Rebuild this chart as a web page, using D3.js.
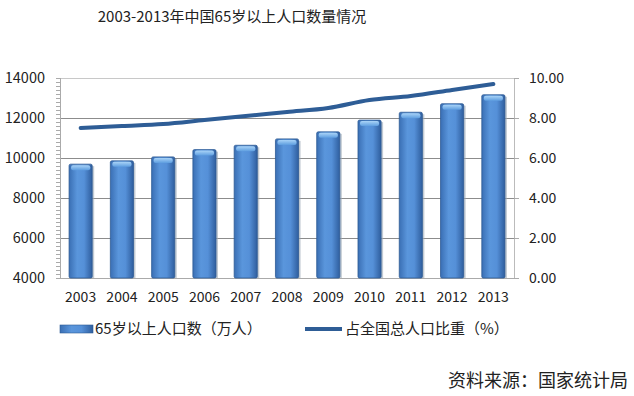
<!DOCTYPE html>
<html>
<head>
<meta charset="utf-8">
<script src="https://cdn.jsdelivr.net/npm/d3@7"></script>
<style>
  body { margin: 0; background: #fff; }
  text { font-family: "Noto Sans CJK SC", "Noto Sans", sans-serif; }
</style>
</head>
<body>
<div id="chart"></div>
<script>
const years = ["2003", "2004", "2005", "2006", "2007", "2008", "2009", "2010", "2011", "2012", "2013"];
const population = [9692, 9857, 10055, 10419, 10636, 10956, 11307, 11894, 12288, 12714, 13161];
const share = [7.5, 7.6, 7.7, 7.9, 8.1, 8.3, 8.5, 8.9, 9.1, 9.4, 9.7];
const leftTicks = [4000, 6000, 8000, 10000, 12000, 14000];
const rightTicks = [0, 2, 4, 6, 8, 10];

const W = 634, H = 396;
const plot = { left: 60, right: 514, top: 78, bottom: 278 };

const svg = d3.select("#chart").append("svg")
    .attr("width", W)
    .attr("height", H);

const defs = svg.append("defs");
const grad = defs.append("linearGradient").attr("id", "barGrad")
    .attr("x1", "0").attr("x2", "1").attr("y1", "0").attr("y2", "0");
grad.append("stop").attr("offset", "0%").attr("stop-color", "#3a6fb4");
grad.append("stop").attr("offset", "35%").attr("stop-color", "#5a96dc");
grad.append("stop").attr("offset", "65%").attr("stop-color", "#5590d8");
grad.append("stop").attr("offset", "100%").attr("stop-color", "#2f5e9e");

const capGrad = defs.append("linearGradient").attr("id", "capGrad")
    .attr("x1", "0").attr("x2", "0").attr("y1", "0").attr("y2", "1");
capGrad.append("stop").attr("offset", "0%").attr("stop-color", "#a9d3f7");
capGrad.append("stop").attr("offset", "100%").attr("stop-color", "#5e9ee0");

const x = d3.scaleBand().domain(years).range([plot.left, plot.right]).paddingInner(0.44).paddingOuter(0.22);
const xc = d3.scaleBand().domain(years).range([plot.left, plot.right]);
const yL = d3.scaleLinear().domain([4000, 14000]).range([plot.bottom, plot.top]);
const yR = d3.scaleLinear().domain([0, 10]).range([plot.bottom, plot.top]);

// title
svg.append("text")
    .attr("x", 232).attr("y", 22)
    .attr("text-anchor", "middle")
    .style("font-size", "15px")
    .style("fill", "#222")
    .text("2003-2013年中国65岁以上人口数量情况");

// gridlines
svg.append("g").selectAll("line")
    .data(leftTicks.filter(d => d > 4000))
    .enter().append("line")
    .attr("x1", plot.left).attr("x2", plot.right)
    .attr("y1", d => Math.round(yL(d)) + 0.5).attr("y2", d => Math.round(yL(d)) + 0.5)
    .attr("stroke", d => d === 14000 ? "#c8c8c8" : "#8c8c8c")
    .attr("stroke-width", 1);

// left axis with minor ticks
const minor = d3.range(4000, 14001, 200);
svg.append("g").selectAll("line")
    .data(minor)
    .enter().append("line")
    .attr("x1", plot.left - 4).attr("x2", plot.left)
    .attr("y1", d => Math.round(yL(d)) + 0.5).attr("y2", d => Math.round(yL(d)) + 0.5)
    .attr("stroke", "#aaa");
svg.append("line")
    .attr("x1", plot.left + 0.5).attr("x2", plot.left + 0.5)
    .attr("y1", plot.top).attr("y2", plot.bottom)
    .attr("stroke", "#aaa");
svg.append("g").selectAll("text")
    .data(leftTicks)
    .enter().append("text")
    .attr("x", 45).attr("y", d => yL(d) + 5)
    .attr("text-anchor", "end")
    .style("font-size", "14.5px")
    .style("fill", "#222")
    .text(d => d);

// right axis
svg.append("line")
    .attr("x1", plot.right + 0.5).attr("x2", plot.right + 0.5)
    .attr("y1", plot.top).attr("y2", plot.bottom)
    .attr("stroke", "#bbb");
svg.append("g").selectAll("line")
    .data(rightTicks)
    .enter().append("line")
    .attr("x1", plot.right).attr("x2", plot.right + 5)
    .attr("y1", d => Math.round(yR(d)) + 0.5).attr("y2", d => Math.round(yR(d)) + 0.5)
    .attr("stroke", "#aaa");
svg.append("g").selectAll("text")
    .data(rightTicks)
    .enter().append("text")
    .attr("x", 529).attr("y", d => yR(d) + 5)
    .style("font-size", "14px")
    .style("fill", "#222")
    .text(d => d.toFixed(2));

// bottom axis line
svg.append("line")
    .attr("x1", plot.left).attr("x2", plot.right)
    .attr("y1", plot.bottom + 0.5).attr("y2", plot.bottom + 0.5)
    .attr("stroke", "#aaa");

// bars
const bars = svg.append("g").selectAll("g")
    .data(years.map((y, i) => ({ year: y, v: population[i] })))
    .enter().append("g");
bars.append("rect")
    .attr("x", d => x(d.year) + 2)
    .attr("y", d => yL(d.v) + 2)
    .attr("width", x.bandwidth())
    .attr("height", d => plot.bottom - yL(d.v) - 2)
    .attr("fill", "#9aa6b4")
    .attr("opacity", 0.6);
bars.append("rect")
    .attr("x", d => x(d.year))
    .attr("y", d => yL(d.v))
    .attr("width", x.bandwidth())
    .attr("height", d => plot.bottom - yL(d.v))
    .attr("fill", "url(#barGrad)")
    .attr("stroke", "#2d5a94")
    .attr("stroke-width", 0.8)
    .attr("rx", 1.5);
bars.append("rect")
    .attr("x", d => x(d.year) + 2)
    .attr("y", d => yL(d.v) + 1)
    .attr("width", x.bandwidth() - 4)
    .attr("height", 5)
    .attr("rx", 2)
    .attr("fill", "url(#capGrad)");

// line
const line = d3.line()
    .x((d, i) => xc(years[i]) + xc.bandwidth() / 2)
    .y(d => yR(d))
    .curve(d3.curveMonotoneX);
svg.append("path")
    .datum(share)
    .attr("fill", "none")
    .attr("stroke", "#2e5d96")
    .attr("stroke-width", 4)
    .attr("stroke-linecap", "round")
    .attr("d", line);

// year labels
svg.append("g").selectAll("text")
    .data(years)
    .enter().append("text")
    .attr("x", d => xc(d) + xc.bandwidth() / 2)
    .attr("y", 302)
    .attr("text-anchor", "middle")
    .style("font-size", "14px")
    .style("fill", "#222")
    .text(d => d);

// legend
const lg = svg.append("g");
lg.append("rect").attr("x", 60).attr("y", 325).attr("width", 33).attr("height", 8)
    .attr("fill", "url(#barGrad)").attr("stroke", "#2d5a94").attr("stroke-width", 0.6);
lg.append("text").attr("x", 95).attr("y", 334)
    .style("font-size", "15px").style("fill", "#222")
    .text("65岁以上人口数（万人）");
lg.append("line").attr("x1", 305).attr("x2", 342).attr("y1", 329).attr("y2", 329)
    .attr("stroke", "#2e5d96").attr("stroke-width", 4);
lg.append("text").attr("x", 345).attr("y", 334)
    .style("font-size", "15px").style("fill", "#222")
    .text("占全国总人口比重（%）");

// source
svg.append("text")
    .attr("x", 628).attr("y", 387)
    .attr("text-anchor", "end")
    .style("font-size", "18px")
    .style("fill", "#222")
    .text("资料来源：国家统计局");
</script>
</body>
</html>
